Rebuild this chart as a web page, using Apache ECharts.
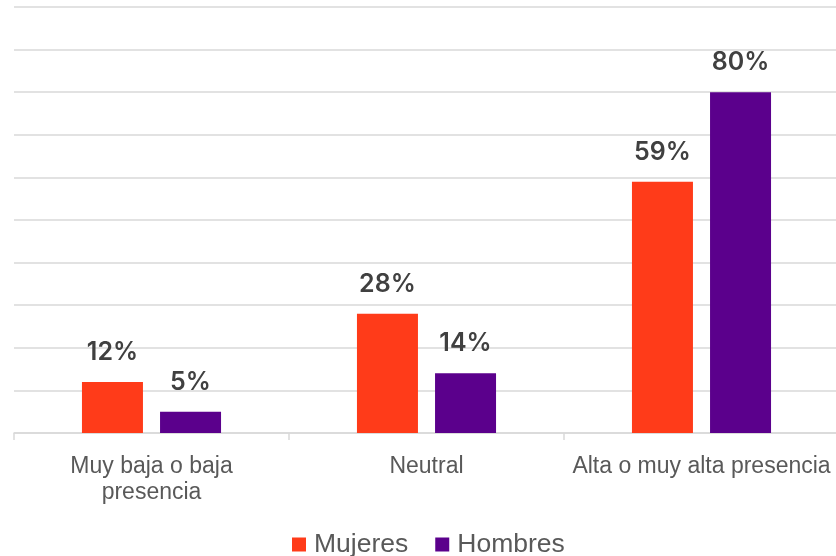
<!DOCTYPE html>
<html>
<head>
<meta charset="utf-8">
<script src="https://cdn.jsdelivr.net/npm/echarts@6/dist/echarts.min.js"></script>
<style>
  html, body { margin: 0; padding: 0; background: #ffffff; }
  #chart { width: 836px; height: 556px; }
</style>
</head>
<body>
<div id="chart"></div>
<script>
// Presence level categories and the share of respondents in each (percent)
const categories = ['Muy baja o baja\npresencia', 'Neutral', 'Alta o muy alta presencia'];
const seriesNames = ['Mujeres', 'Hombres'];
const mujeres = [12, 28, 59];
const hombres = [5, 14, 80];
const yTicks = { min: 0, max: 100, interval: 10 };

const colors = { Mujeres: '#FF3B19', Hombres: '#5B008C' };

const valueLabel = {
  show: true,
  position: 'top',
  distance: 17,
  formatter: p => p.value + '%',
  fontFamily: 'Inter',
  fontWeight: 600,
  fontSize: 25,
  color: '#404040'
};

const chart = echarts.init(document.getElementById('chart'), null, { renderer: 'canvas' });

chart.setOption({
  animation: false,
  backgroundColor: '#ffffff',
  grid: {
    left: 14,
    top: 7,
    width: 825,
    height: 426,
    containLabel: false,
    outerBoundsMode: 'none'
  },
  legend: {
    top: 526,
    left: 287,
    itemWidth: 14,
    itemHeight: 14,
    itemGap: 27,
    icon: 'rect',
    textStyle: { fontFamily: 'Liberation Sans', fontSize: 26.5, color: '#595959', padding: [0, 0, 0, 3] },
    data: seriesNames
  },
  xAxis: {
    type: 'category',
    data: categories,
    boundaryGap: true,
    axisLine: { show: true, lineStyle: { color: '#d9d9d9', width: 1.5 } },
    axisTick: { show: true, length: 7, lineStyle: { color: '#d9d9d9', width: 1.5 } },
    axisLabel: {
      interval: 0,
      margin: 21,
      fontFamily: 'Liberation Sans',
      fontSize: 23,
      lineHeight: 26,
      color: '#595959'
    }
  },
  yAxis: {
    type: 'value',
    min: yTicks.min,
    max: yTicks.max,
    interval: yTicks.interval,
    axisLine: { show: false },
    axisTick: { show: false },
    axisLabel: { show: false },
    splitLine: { show: true, lineStyle: { color: '#d9d9d9', width: 1.5 } }
  },
  series: [
    {
      name: 'Mujeres',
      type: 'bar',
      data: mujeres,
      barWidth: 61,
      barGap: '28%',
      itemStyle: { color: colors.Mujeres },
      label: valueLabel
    },
    {
      name: 'Hombres',
      type: 'bar',
      data: hombres,
      barWidth: 61,
      barGap: '28%',
      itemStyle: { color: colors.Hombres },
      label: valueLabel
    }
  ]
});
</script>
</body>
</html>
